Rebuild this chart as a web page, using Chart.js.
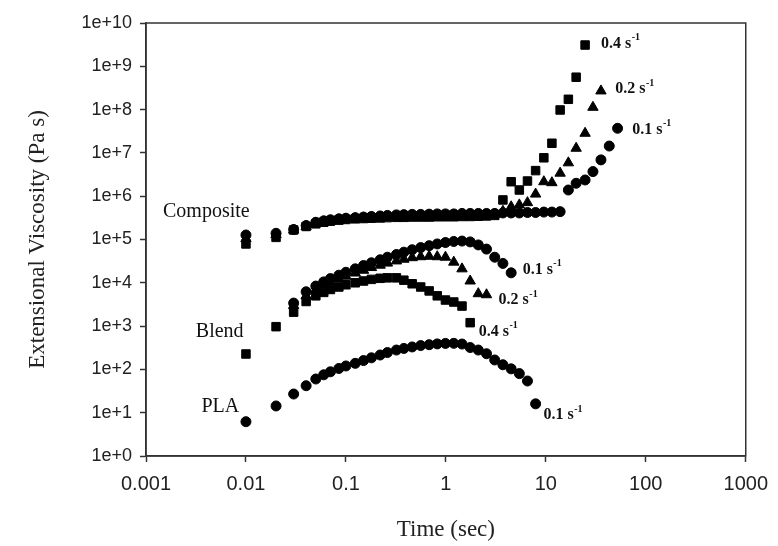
<!DOCTYPE html>
<html><head><meta charset="utf-8">
<script src="https://cdn.jsdelivr.net/npm/chart.js@4/dist/chart.umd.min.js"></script>
<style>html,body{margin:0;padding:0;background:#fff}#wrap{width:778px;height:546px}</style>
</head><body><div id="wrap"><canvas id="c" width="778" height="546"></canvas></div>
<script>
// ---- data ----
const time = [0.01, 0.02, 0.03, 0.04, 0.05, 0.06, 0.07, 0.085, 0.1, 0.124, 0.15, 0.18, 0.22, 0.26, 0.32, 0.38, 0.46, 0.56, 0.68, 0.82, 0.99, 1.2, 1.45, 1.75, 2.11, 2.55, 3.08, 3.72, 4.5, 5.43, 6.55, 7.9, 9.55, 11.5, 13.9, 16.8, 20.1, 24.7, 29.6, 35.6, 43.1, 52.2];

const composite01 = [1.27e5, 1.39e5, 1.7e5, 2.1e5, 2.5e5, 2.7e5, 2.85e5, 3.0e5, 3.1e5, 3.2e5, 3.3e5, 3.4e5, 3.5e5, 3.6e5, 3.7e5, 3.75e5, 3.8e5, 3.8e5, 3.85e5, 3.9e5, 3.9e5, 3.9e5, 4.0e5, 4.0e5, 4.0e5, 4.0e5, 4.0e5, 4.1e5, 4.1e5, 4.1e5, 4.2e5, 4.2e5, 4.3e5, 4.3e5, 4.4e5, 1.39e6, 1.99e6, 2.37e6, 3.7e6, 6.9e6, 1.44e7, 3.7e7];
const composite02 = [1.05e5, 1.3e5, 1.65e5, 2.0e5, 2.35e5, 2.55e5, 2.7e5, 2.85e5, 2.95e5, 3.05e5, 3.15e5, 3.2e5, 3.3e5, 3.35e5, 3.4e5, 3.45e5, 3.5e5, 3.5e5, 3.55e5, 3.55e5, 3.6e5, 3.6e5, 3.6e5, 3.65e5, 3.65e5, 3.7e5, 3.8e5, 4.5e5, 5.7e5, 6.3e5, 7.1e5, 1.12e6, 2.16e6, 2.05e6, 3.4e6, 5.9e6, 1.28e7, 2.84e7, 1.13e8, 2.7e8, null, null];
const composite04 = [7.9e4, 1.12e5, 1.66e5, 2.0e5, 2.3e5, 2.5e5, 2.65e5, 2.8e5, 2.9e5, 3.0e5, 3.05e5, 3.1e5, 3.15e5, 3.2e5, 3.25e5, 3.25e5, 3.3e5, 3.3e5, 3.3e5, 3.35e5, 3.35e5, 3.35e5, 3.4e5, 3.4e5, 3.45e5, 3.5e5, 3.6e5, 8.2e5, 2.16e6, 1.39e6, 2.24e6, 3.9e6, 7.7e6, 1.67e7, 9.8e7, 1.73e8, 5.6e8, 3.1e9, null, null, null, null];

const blend01 = [null, null, 3.4e3, 6.2e3, 8.4e3, 1.05e4, 1.25e4, 1.5e4, 1.75e4, 2.1e4, 2.5e4, 2.9e4, 3.4e4, 3.9e4, 4.5e4, 5.1e4, 5.8e4, 6.5e4, 7.2e4, 7.9e4, 8.5e4, 9.0e4, 9.2e4, 8.8e4, 7.5e4, 6.0e4, 3.9e4, 2.8e4, 1.7e4, null, null, null, null, null, null, null, null, null, null, null, null, null];
const blend02 = [null, null, 3.0e3, 5.0e3, 7.0e3, 8.8e3, 1.03e4, 1.22e4, 1.42e4, 1.68e4, 1.95e4, 2.25e4, 2.55e4, 2.85e4, 3.2e4, 3.5e4, 3.8e4, 4.0e4, 4.1e4, 4.0e4, 3.9e4, 3.0e4, 2.1e4, 1.1e4, 5.6e3, 5.3e3, null, null, null, null, null, null, null, null, null, null, null, null, null, null, null, null];
const blend04 = [227, 970, 2.1e3, 3.7e3, 5.0e3, 6.0e3, 7.0e3, 8.0e3, 9.0e3, 1.0e4, 1.1e4, 1.2e4, 1.27e4, 1.3e4, 1.3e4, 1.15e4, 9.5e3, 8.0e3, 6.5e3, 5.0e3, 4.0e3, 3.6e3, 2.9e3, 1.2e3, null, null, null, null, null, null, null, null, null, null, null, null, null, null, null, null, null, null];

const pla01 = [6.2, 14.3, 27, 42, 60, 75, 88, 105, 120, 138, 160, 185, 215, 245, 280, 305, 330, 355, 372, 388, 398, 400, 385, 320, 280, 230, 165, 128, 103, 80, 54, 16, null, null, null, null, null, null, null, null, null, null];

const xTickValues = [0.001, 0.01, 0.1, 1, 10, 100, 1000];
const xTickLabels = ['0.001', '0.01', '0.1', '1', '10', '100', '1000'];
const yTickValues = [1, 1e1, 1e2, 1e3, 1e4, 1e5, 1e6, 1e7, 1e8, 1e9, 1e10];
const yTickLabels = ['1e+0', '1e+1', '1e+2', '1e+3', '1e+4', '1e+5', '1e+6', '1e+7', '1e+8', '1e+9', '1e+10'];

const groupNames = ['Composite', 'Blend', 'PLA'];
const rateTexts = ['0.4 s', '0.2 s', '0.1 s', '0.1 s', '0.2 s', '0.4 s', '0.1 s'];

// ---- layout of the text annotations (data coordinates of left/middle anchor) ----
const groupAnchors = [[0.00148, 4.4e5], [0.00315, 743], [0.00359, 13.8]];
const rateAnchors = [[35.6, 3.3e9], [49.5, 3.0e8], [73.1, 3.4e7], [5.86, 2.0e4], [3.37, 4.0e3], [2.13, 743], [9.48, 8.85]];

function pts(vals) {
  const out = [];
  vals.forEach((v, i) => { if (v !== null) out.push({ x: time[i], y: v }); });
  return out;
}
function ds(label, vals, style, r) {
  return { label, data: pts(vals), pointStyle: style, pointRadius: r, pointHoverRadius: r,
    backgroundColor: '#000', borderColor: '#000', borderWidth: 1, showLine: false };
}

const annot = {
  id: 'annot',
  afterDatasetsDraw(chart) {
    const { ctx, chartArea: a, scales: { x, y } } = chart;
    ctx.save();
    ctx.strokeStyle = '#333';
    ctx.lineWidth = 1.5;
    ctx.strokeRect(a.left, a.top, a.right - a.left, a.bottom - a.top);
    ctx.fillStyle = '#111';
    ctx.textBaseline = 'middle';
    ctx.textAlign = 'left';
    ctx.font = '20px "Liberation Serif"';
    groupNames.forEach((n, i) => {
      ctx.fillText(n, x.getPixelForValue(groupAnchors[i][0]), y.getPixelForValue(groupAnchors[i][1]));
    });
    rateTexts.forEach((t, i) => {
      const px = x.getPixelForValue(rateAnchors[i][0]);
      const py = y.getPixelForValue(rateAnchors[i][1]);
      ctx.font = 'bold 16px "Liberation Serif"';
      ctx.fillText(t, px, py);
      const w = ctx.measureText(t).width;
      ctx.font = 'bold 10px "Liberation Serif"';
      ctx.fillText('-1', px + w + 0.5, py - 6);
    });
    ctx.restore();
  }
};

new Chart(document.getElementById('c'), {
  type: 'scatter',
  data: {
    datasets: [
      ds('Composite 0.1', composite01, 'circle', 5),
      ds('Composite 0.2', composite02, 'triangle', 6),
      ds('Composite 0.4', composite04, 'rect', 6),
      ds('Blend 0.4', blend04, 'rect', 6),
      ds('Blend 0.2', blend02, 'triangle', 6),
      ds('Blend 0.1', blend01, 'circle', 5),
      ds('PLA 0.1', pla01, 'circle', 5)
    ]
  },
  options: {
    responsive: false,
    animation: false,
    devicePixelRatio: 1,
    layout: { padding: { top: 23, right: 30, left: 0, bottom: 0 } },
    plugins: { legend: { display: false }, tooltip: { enabled: false } },
    scales: {
      x: {
        type: 'logarithmic', min: 0.001, max: 1000,
        afterBuildTicks: s => { s.ticks = xTickValues.map(v => ({ value: v })); },
        afterFit: s => { s.height = 90; },
        ticks: { callback: (v) => xTickLabels[xTickValues.indexOf(v)] ?? '', font: { family: 'Liberation Sans', size: 20 }, color: '#222', padding: 10, maxRotation: 0, autoSkip: false },
        grid: { display: true, drawOnChartArea: false, drawTicks: true, tickLength: 6, tickColor: '#333', tickWidth: 1.5 },
        border: { display: true, color: '#333', width: 1.5 },
        title: { display: true, text: 'Time (sec)', font: { family: 'Liberation Serif', size: 23 }, color: '#222', padding: { top: 0, bottom: 2 } }
      },
      y: {
        type: 'logarithmic', min: 1, max: 1e10,
        afterBuildTicks: s => { s.ticks = yTickValues.map(v => ({ value: v })); },
        afterFit: s => { s.width = 146; },
        ticks: { callback: (v) => yTickLabels[yTickValues.indexOf(v)] ?? '', font: { family: 'Liberation Sans', size: 18 }, color: '#222', padding: 8, autoSkip: false },
        grid: { display: true, drawOnChartArea: false, drawTicks: true, tickLength: 6, tickColor: '#333', tickWidth: 1.5 },
        border: { display: true, color: '#333', width: 1.5 },
        title: { display: true, text: 'Extensional Viscosity (Pa s)', font: { family: 'Liberation Serif', size: 23 }, color: '#222', padding: { top: 24, bottom: 0 } }
      }
    }
  },
  plugins: [annot]
});
</script></body></html>
